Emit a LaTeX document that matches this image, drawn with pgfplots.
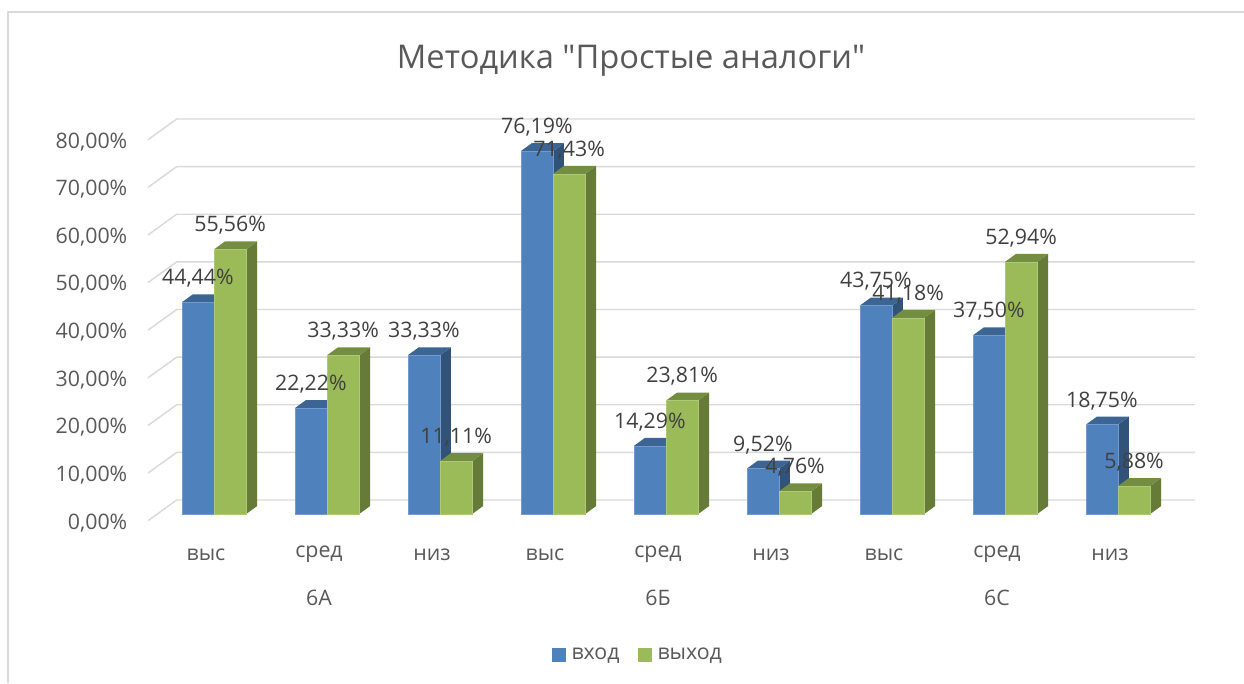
\documentclass[border=0pt]{standalone}
\usepackage{fontspec}
\setmainfont{Open Sans}[Ligatures=TeXOff]
\usepackage{pgfplots}
\usepackage{pgfplotstable}
\pgfplotsset{compat=1.18}

\definecolor{bluefront}{HTML}{4F81BD}
\definecolor{bluetop}{HTML}{3C6593}
\definecolor{blueside}{HTML}{315379}
\definecolor{greenfront}{HTML}{9BBB59}
\definecolor{greentop}{HTML}{748E41}
\definecolor{greenside}{HTML}{657B37}
\definecolor{gridgray}{HTML}{D9D9D9}
\definecolor{axistext}{HTML}{595959}
\definecolor{labeltext}{HTML}{404040}

\pgfplotstableread{
pos vhod vyhod
0 44.44 55.56
1 22.22 33.33
2 33.33 11.11
3 76.19 71.43
4 14.29 23.81
5 9.52 4.76
6 43.75 41.18
7 37.50 52.94
8 18.75 5.88
}\datatab

% one bar: left edge, right edge, value, colour prefix
\newcommand{\threedbar}[4]{%
  \pgfmathsetmacro\xl{#1}\pgfmathsetmacro\xr{#2}%
  \pgfmathsetmacro\xlb{\xl+0.0973}\pgfmathsetmacro\xrb{\xr+0.0973}%
  \pgfmathsetmacro\vb{#3+1.68}%
  \edef\temp{\noexpand\addplot[fill=#4side,draw=none,forget plot] coordinates {(\xr,0) (\xrb,1.68) (\xrb,\vb) (\xr,#3)} --cycle;}\temp
  \edef\temp{\noexpand\addplot[fill=#4top,draw=none,forget plot] coordinates {(\xl,#3) (\xlb,\vb) (\xrb,\vb) (\xr,#3)} --cycle;}\temp
  \edef\temp{\noexpand\addplot[fill=#4front,draw=#4front!80!white,line width=0.4pt,forget plot] coordinates {(\xl,0) (\xr,0) (\xr,#3) (\xl,#3)} --cycle;}\temp
}
% wall grid line at a tick value
\newcommand{\wallline}[1]{%
  \pgfmathsetmacro\gf{#1-1.41}\pgfmathsetmacro\gb{#1+2.94}%
  \edef\temp{\noexpand\addplot[gridgray,line width=1.1pt,forget plot] coordinates {(-0.584,\gf) (-0.33,\gb) (8.68,\gb)};}\temp
}

\begin{document}
\begin{tikzpicture}
\path[use as bounding box] (0,0) rectangle (933pt,512.25pt);
\draw[gridgray,line width=1.1pt] (6pt,0) -- (6pt,503.25pt) -- (933pt,503.25pt);
\begin{axis}[
    at={(111pt,126.75pt)},
    anchor=south west,
    scale only axis,
    width=763.5pt,
    height=285.75pt,
    xmin=-0.584, xmax=8.425,
    ymin=0, ymax=80,
    clip=false,
    axis line style={draw=none},
    major tick length=0pt,
    font=\fontsize{16pt}{18pt}\selectfont,
    /pgf/number format/.cd, fixed, fixed zerofill, precision=2, use comma, assume math mode=true,
    /pgfplots/.cd,
    title={Методика "Простые аналоги"},
    title style={at={(0.4745,1.1995)},anchor=center,yshift=-9pt,font=\fontsize{24.5pt}{28pt}\selectfont,text=axistext},
    ytick={0,10,...,80},
    yticklabel={\pgfmathprintnumber{\tick}\%},
    yticklabel style={text=axistext,anchor=east,xshift=-12pt,yshift=-6.5pt},
    xtick={0,...,8},
    xticklabels={выс,сред,низ,выс,сред,низ,выс,сред,низ},
    xticklabel style={text=axistext,anchor=center,xshift=-6pt,yshift=-30.5pt},
    extra x ticks={1,4,7},
    extra x tick labels={6А,6Б,6С},
    extra x tick style={xticklabel style={text=axistext,anchor=center,yshift=-32.5pt}},
    legend style={at={(0.4814,-0.3701)},anchor=center,draw=none,fill=none,legend columns=2,
      text=axistext,
      /tikz/every even column/.append style={column sep=11.5pt}},
    legend cell align=left,
]
\pgfplotsinvokeforeach{0,10,...,80}{\wallline{#1}}

\pgfplotsinvokeforeach{0,...,8}{
  \pgfplotstablegetelem{#1}{vhod}\of\datatab
  \let\va\pgfplotsretval
  \pgfplotstablegetelem{#1}{vyhod}\of\datatab
  \let\vg\pgfplotsretval
  \threedbar{#1-0.285}{#1}{\va}{blue}
  \threedbar{#1}{#1+0.285}{\vg}{green}
}

\addplot[draw=none,point meta=y,
    nodes near coords={\pgfmathprintnumber{\pgfplotspointmeta}\%},
    every node near coord/.append style={anchor=center,yshift=18pt,text=labeltext},
    legend image code/.code={\fill[bluefront] (0pt,-5.25pt) rectangle (10.5pt,5.25pt); \path (13pt,0pt);}]
    table[x expr=\thisrow{pos}-0.1425,y=vhod] {\datatab};
\addlegendentry{вход}
\addplot[draw=none,point meta=y,
    nodes near coords={\pgfmathprintnumber{\pgfplotspointmeta}\%},
    every node near coord/.append style={anchor=center,yshift=18pt,text=labeltext},
    legend image code/.code={\fill[greenfront] (0pt,-5.25pt) rectangle (10.5pt,5.25pt); \path (13pt,0pt);}]
    table[x expr=\thisrow{pos}+0.1425,y=vyhod] {\datatab};
\addlegendentry{выход}
\end{axis}
\end{tikzpicture}
\end{document}
